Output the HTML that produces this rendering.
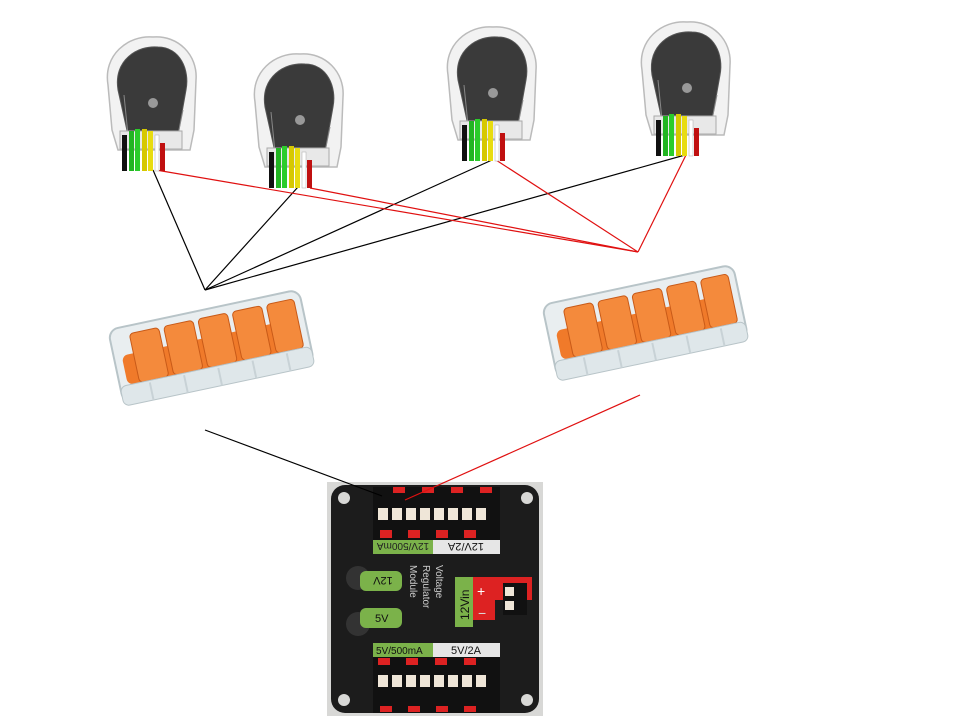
<!DOCTYPE html>
<html><head><style>html,body{margin:0;padding:0;background:#fff;width:960px;height:720px;overflow:hidden}</style></head>
<body>
<svg width="960" height="720" viewBox="0 0 960 720" xmlns="http://www.w3.org/2000/svg" font-family="Liberation Sans, sans-serif">
<defs>
<g id="servo">
  <path d="M10,50 C5,20 30,0 55,2 C80,0 100,20 98,45 L96,95 L92,115 L20,115 L14,95 Z" fill="#f2f2f2" stroke="#bbb" stroke-width="1.5"/>
  <path d="M20,55 C15,25 40,10 60,12 C82,12 92,35 88,55 L80,100 L30,100 Z" fill="#3a3a3a" stroke="#555"/>
  <circle cx="55" cy="68" r="5" fill="#999"/>
  <path d="M26,60 L30,100 L80,100 L85,75" fill="none" stroke="#888" stroke-width="1"/>
  <rect x="22" y="96" width="62" height="18" fill="#e8e8e8" stroke="#aaa"/>
  <rect x="24" y="100" width="5" height="36" fill="#111"/>
  <rect x="31" y="96" width="5" height="40" fill="#22b522"/>
  <rect x="37" y="94" width="5" height="42" fill="#2bcc2b"/>
  <rect x="44" y="94" width="5" height="42" fill="#d6c800"/>
  <rect x="50" y="96" width="5" height="40" fill="#e8dc10"/>
  <rect x="57" y="100" width="4" height="36" fill="#fff" stroke="#aaa" stroke-width=".5"/>
  <rect x="62" y="108" width="5" height="28" fill="#c01010"/>
</g>
<g id="wago">
  <rect x="0" y="0" width="195" height="75" rx="10" fill="#e9eef0" stroke="#b8c4c8" stroke-width="2"/>
  <rect x="8" y="28" width="180" height="30" rx="6" fill="#f07a2a"/>
  <g fill="#f48a3c" stroke="#c85a18" stroke-width="1">
    <rect x="20" y="8" width="30" height="50" rx="4"/>
    <rect x="55" y="8" width="30" height="50" rx="4"/>
    <rect x="90" y="8" width="30" height="50" rx="4"/>
    <rect x="125" y="8" width="30" height="50" rx="4"/>
    <rect x="160" y="8" width="28" height="50" rx="4"/>
  </g>
  <rect x="0" y="58" width="195" height="20" rx="6" fill="#dfe7ea" stroke="#b8c4c8"/>
  <g stroke="#c8d2d6" stroke-width="2"><line x1="30" y1="60" x2="30" y2="78"/><line x1="65" y1="60" x2="65" y2="78"/><line x1="100" y1="60" x2="100" y2="78"/><line x1="135" y1="60" x2="135" y2="78"/><line x1="170" y1="60" x2="170" y2="78"/></g>
</g>
</defs>

<!-- connectors -->
<g stroke="#000" stroke-width="1.2" fill="none">
  <line x1="153" y1="170" x2="205" y2="290"/>
  <line x1="298" y1="187" x2="205" y2="290"/>
  <line x1="492" y1="160" x2="205" y2="290"/>
  <line x1="685" y1="155" x2="205" y2="290"/>
</g>
<g stroke="#e01010" stroke-width="1.2" fill="none">
  <line x1="156" y1="170" x2="638" y2="252"/>
  <line x1="310" y1="188" x2="638" y2="252"/>
  <line x1="496" y1="160" x2="638" y2="252"/>
  <line x1="686" y1="155" x2="638" y2="252"/>
</g>

<!-- servos -->
<use href="#servo" transform="translate(98,35)"/>
<use href="#servo" transform="translate(245,52)"/>
<use href="#servo" transform="translate(438,25)"/>
<use href="#servo" transform="translate(632,20)"/>

<!-- wagos -->
<use href="#wago" transform="translate(108,330) rotate(-12)"/>
<use href="#wago" transform="translate(542,305) rotate(-12)"/>

<!-- VRM -->
<rect x="327" y="482" width="216" height="234" fill="#d8d8d6"/>
<rect x="331" y="485" width="208" height="228" rx="14" fill="#1c1c1c"/>
<g fill="#d8d8d6"><circle cx="344" cy="498" r="6"/><circle cx="527" cy="498" r="6"/><circle cx="344" cy="700" r="6"/><circle cx="527" cy="700" r="6"/></g>
<rect x="373" y="487" width="127" height="56" fill="#111"/>
<g fill="#d22">
<rect x="393" y="487" width="12" height="6"/><rect x="422" y="487" width="12" height="6"/><rect x="451" y="487" width="12" height="6"/><rect x="480" y="487" width="12" height="6"/>
<rect x="380" y="530" width="12" height="8"/><rect x="408" y="530" width="12" height="8"/><rect x="436" y="530" width="12" height="8"/><rect x="464" y="530" width="12" height="8"/>
</g>
<g fill="#efe6d8">
<rect x="378" y="508" width="10" height="12"/><rect x="392" y="508" width="10" height="12"/><rect x="406" y="508" width="10" height="12"/><rect x="420" y="508" width="10" height="12"/><rect x="434" y="508" width="10" height="12"/><rect x="448" y="508" width="10" height="12"/><rect x="462" y="508" width="10" height="12"/><rect x="476" y="508" width="10" height="12"/>
</g>
<rect x="373" y="540" width="60" height="14" fill="#7bb24a"/>
<rect x="433" y="540" width="67" height="14" fill="#e6e6e6"/>
<text x="403" y="551" font-size="10" fill="#222" text-anchor="middle" transform="rotate(180 403 547)">12V/500mA</text>
<text x="466" y="551" font-size="11" fill="#111" text-anchor="middle" transform="rotate(180 466 547)">12V/2A</text>
<circle cx="358" cy="578" r="12" fill="#333"/>
<rect x="360" y="571" width="42" height="20" rx="6" fill="#7bb24a"/>
<text x="383" y="585" font-size="11" fill="#111" text-anchor="middle" transform="rotate(180 383 581)">12V</text>
<circle cx="358" cy="624" r="12" fill="#333"/>
<rect x="360" y="608" width="42" height="20" rx="6" fill="#7bb24a"/>
<text x="375" y="622" font-size="11" fill="#111">5V</text>
<text x="436" y="565" font-size="10" fill="#ccc" transform="rotate(90 436 565)">Voltage</text>
<text x="423" y="565" font-size="10" fill="#ccc" transform="rotate(90 423 565)">Regulator</text>
<text x="410" y="565" font-size="10" fill="#ccc" transform="rotate(90 410 565)">Module</text>
<rect x="455" y="577" width="18" height="50" fill="#7bb24a"/>
<text x="469" y="620" font-size="12" fill="#111" transform="rotate(-90 469 620)">12Vin</text>
<path d="M473,577 H532 V600 H495 V620 H473 Z" fill="#d22"/>
<text x="477" y="596" font-size="14" fill="#fff">+</text>
<text x="478" y="618" font-size="14" fill="#ddd">−</text>
<rect x="503" y="583" width="24" height="32" fill="#111"/>
<rect x="505" y="587" width="9" height="9" fill="#efe6d8"/><rect x="505" y="601" width="9" height="9" fill="#efe6d8"/>
<rect x="373" y="643" width="60" height="14" fill="#7bb24a"/>
<rect x="433" y="643" width="67" height="14" fill="#e6e6e6"/>
<text x="376" y="654" font-size="10" fill="#111">5V/500mA</text>
<text x="451" y="654" font-size="11" fill="#111">5V/2A</text>
<rect x="373" y="657" width="127" height="56" fill="#111"/>
<g fill="#d22">
<rect x="378" y="658" width="12" height="7"/><rect x="406" y="658" width="12" height="7"/><rect x="435" y="658" width="12" height="7"/><rect x="464" y="658" width="12" height="7"/>
<rect x="380" y="706" width="12" height="6"/><rect x="408" y="706" width="12" height="6"/><rect x="436" y="706" width="12" height="6"/><rect x="464" y="706" width="12" height="6"/>
</g>
<g fill="#efe6d8">
<rect x="378" y="675" width="10" height="12"/><rect x="392" y="675" width="10" height="12"/><rect x="406" y="675" width="10" height="12"/><rect x="420" y="675" width="10" height="12"/><rect x="434" y="675" width="10" height="12"/><rect x="448" y="675" width="10" height="12"/><rect x="462" y="675" width="10" height="12"/><rect x="476" y="675" width="10" height="12"/>
</g>

<!-- bottom connectors drawn over VRM -->
<line x1="205" y1="430" x2="382" y2="496" stroke="#000" stroke-width="1.2"/>
<line x1="640" y1="395" x2="405" y2="500" stroke="#e01010" stroke-width="1.2"/>
</svg>
</body></html>
